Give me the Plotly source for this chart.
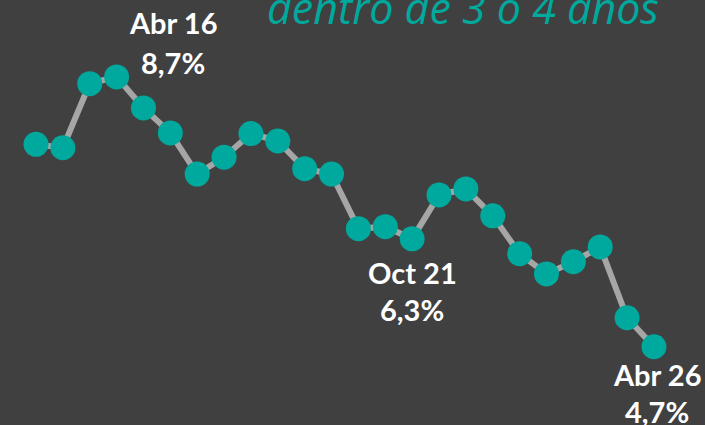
import plotly.graph_objects as go

periods = ["Oct 14", "Abr 15", "Oct 15", "Abr 16", "Oct 16", "Abr 17", "Oct 17", "Abr 18",
           "Oct 18", "Abr 19", "Oct 19", "Abr 20", "Oct 20", "Abr 21", "Oct 21", "Abr 22",
           "Oct 22", "Abr 23", "Oct 23", "Abr 24", "Oct 24", "Abr 25", "Oct 25", "Abr 26"]
values = [7.7, 7.65, 8.6, 8.7, 8.24, 7.87, 7.26, 7.51, 7.86, 7.75, 7.34, 7.26,
          6.45, 6.48, 6.3, 6.95, 7.04, 6.64, 6.08, 5.78, 5.96, 6.18, 5.13, 4.7]
highlights = [("Abr 16", "8,7%"), ("Oct 21", "6,3%"), ("Abr 26", "4,7%")]
title_text = "dentro de 3 o 4 años"

BG = "#404040"
TEAL = "#00A99D"

fig = go.Figure()
fig.add_trace(go.Scatter(
    x=list(range(len(periods))), y=values, mode="lines+markers",
    line=dict(color="#A6A6A6", width=6),
    marker=dict(color=TEAL, size=25, line=dict(width=0)),
    hoverinfo="skip", showlegend=False,
))

shifts = {"Abr 16": (56, 54, 14), "Oct 21": (0, -34, -71), "Abr 26": (3, -28, -65)}
for lab, pct in highlights:
    i = periods.index(lab)
    xs, y1, y2 = shifts[lab]
    for txt, ys in ((lab, y1), (pct, y2)):
        fig.add_annotation(x=i, y=values[i], text="<b>%s</b>" % txt, showarrow=False,
                           xshift=xs, yshift=ys, xanchor="center", yanchor="middle",
                           font=dict(family="Lato", size=29, color="white"))

fig.add_annotation(xref="paper", yref="paper", x=463 / 705, y=1 - 8 / 425,
                   text="<i>%s</i>" % title_text, showarrow=False,
                   xanchor="center", yanchor="middle",
                   font=dict(family="Open Sans", size=43, color=TEAL))

fig.update_xaxes(visible=False, range=[-1.34, 24.9])
fig.update_yaxes(visible=False, range=[3.54, 9.84])
fig.update_layout(width=705, height=425, margin=dict(l=0, r=0, t=0, b=0),
                  paper_bgcolor=BG, plot_bgcolor=BG, hovermode=False)
fig.write_html("out.html", config={"displayModeBar": False, "staticPlot": True})

with open("out.html", "r", encoding="utf-8") as f:
    html = f.read()
html = html.replace("<head>", "<head><style>html,body{margin:0;padding:0;overflow:hidden;background:%s}</style>" % BG, 1)
with open("out.html", "w", encoding="utf-8") as f:
    f.write(html)
